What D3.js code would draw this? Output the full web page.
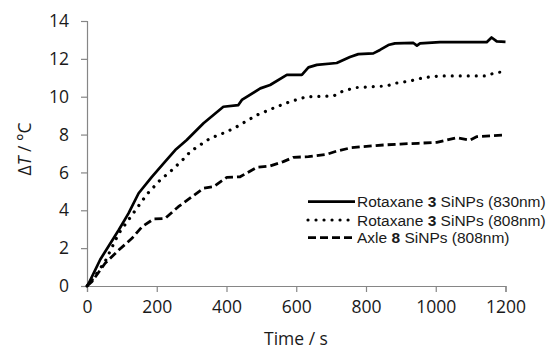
<!DOCTYPE html>
<html>
<head>
<meta charset="utf-8">
<script src="https://cdn.jsdelivr.net/npm/d3@7"></script>
<style>
  html, body { margin: 0; padding: 0; background: #fff; }
  svg { display: block; font-family: "Open Sans", sans-serif; }
</style>
</head>
<body>
<svg id="chart" width="552" height="349"></svg>
<script>
// ---- data ----
const rotaxane830Time = [0, 5, 38, 91, 119, 148, 186, 224, 253, 286, 334, 391, 434, 444, 497, 525, 573, 616, 635, 659, 716, 754, 778, 821, 840, 864, 883, 936, 946, 955, 1012, 1146, 1160, 1175, 1200];
const rotaxane830Temp = [0, 0.14, 1.4, 2.96, 3.84, 4.9, 5.77, 6.57, 7.18, 7.71, 8.6, 9.47, 9.56, 9.83, 10.44, 10.62, 11.15, 11.15, 11.55, 11.68, 11.78, 12.1, 12.25, 12.29, 12.47, 12.73, 12.82, 12.84, 12.7, 12.82, 12.88, 12.88, 13.13, 12.92, 12.9];

const rotaxane808Time = [0, 14, 52, 91, 129, 172, 210, 244, 282, 296, 353, 401, 430, 487, 544, 583, 630, 707, 731, 769, 860, 883, 926, 964, 1012, 1146, 1170, 1200];
const rotaxane808Temp = [0, 0.3, 1.3, 2.78, 3.75, 4.85, 5.6, 6.13, 6.8, 7.1, 7.8, 8.15, 8.42, 9.03, 9.47, 9.74, 10.0, 10.04, 10.27, 10.48, 10.57, 10.71, 10.83, 11.0, 11.1, 11.1, 11.27, 11.32];

const axle808Time = [0, 14, 52, 91, 129, 158, 191, 224, 262, 301, 334, 363, 401, 439, 487, 525, 563, 592, 635, 688, 716, 759, 850, 898, 950, 1003, 1031, 1060, 1098, 1117, 1200];
const axle808Temp = [0, 0.23, 1.2, 1.9, 2.52, 3.13, 3.54, 3.57, 4.19, 4.72, 5.16, 5.25, 5.74, 5.77, 6.27, 6.34, 6.57, 6.8, 6.83, 6.96, 7.13, 7.31, 7.45, 7.5, 7.54, 7.59, 7.71, 7.83, 7.71, 7.89, 7.98];

const seriesNames = ["Rotaxane |3| SiNPs (830nm)", "Rotaxane |3| SiNPs (808nm)", "Axle |8| SiNPs (808nm)"];
const xTicks = [0, 200, 400, 600, 800, 1000, 1200];
const yTicks = [0, 2, 4, 6, 8, 10, 12, 14];
const xTitle = "Time / s";

// ---- build ----
const svg = d3.select("#chart");
const x = d3.scaleLinear().domain([0, 1200]).range([87, 505.5]);
const y = d3.scaleLinear().domain([0, 14]).range([286, 21]);
const axisColor = "#868686";
const textColor = "#1a1a1a";

const series = [
  { name: seriesNames[0], t: rotaxane830Time, v: rotaxane830Temp, dash: null, cap: "butt", w: 2.7 },
  { name: seriesNames[1], t: rotaxane808Time, v: rotaxane808Temp, dash: "0.01 8", cap: "round", w: 3.2 },
  { name: seriesNames[2], t: axle808Time, v: axle808Temp, dash: "8 4", cap: "butt", w: 2.8 }
];

// axes
const xAxis = svg.append("g").attr("transform", `translate(0,${y(0)})`)
  .call(d3.axisBottom(x).tickValues(xTicks).tickSize(6).tickPadding(9).tickFormat(d3.format("d")));
const yAxis = svg.append("g").attr("transform", `translate(${x(0)},0)`)
  .call(d3.axisLeft(y).tickValues(yTicks).tickSize(6).tickPadding(12).tickFormat(d3.format("d")));
[xAxis, yAxis].forEach(g => {
  g.select(".domain").attr("stroke", axisColor).attr("stroke-width", 1.2);
  g.selectAll(".tick line").attr("stroke", axisColor).attr("stroke-width", 1.2);
  g.selectAll(".tick text").attr("fill", textColor).style("font-size", "17.5px").style("font-family", "Open Sans");
});

// lines
const line = d3.line().x(d => x(d[0])).y(d => y(d[1]));
series.forEach(s => {
  const pts = s.t.map((t, i) => [t, s.v[i]]);
  svg.append("path").datum(pts)
    .attr("d", line)
    .attr("fill", "none")
    .attr("stroke", "#000")
    .attr("stroke-width", s.w)
    .attr("stroke-linejoin", "round")
    .attr("stroke-linecap", s.cap)
    .attr("stroke-dasharray", s.dash);
});

// legend
const legendRows = [201.7, 220, 237.7];
series.forEach((s, i) => {
  const g = svg.append("g").attr("transform", `translate(0,${legendRows[i]})`);
  g.append("line").attr("x1", 308).attr("x2", 355).attr("y1", 0).attr("y2", 0)
    .attr("stroke", "#000").attr("stroke-width", s.w)
    .attr("stroke-linecap", s.cap).attr("stroke-dasharray", s.dash);
  const txt = g.append("text").attr("x", 357).attr("y", 0).attr("dy", "0.36em")
    .attr("fill", textColor).style("font-size", "15.5px")
    .style("font-family", "'Liberation Sans', Arial, sans-serif");
  s.name.split("|").forEach((part, j) => {
    txt.append("tspan").text(part).style("font-weight", j === 1 ? "bold" : "normal");
  });
});

// axis titles
svg.append("text").attr("x", 296).attr("y", 345).attr("text-anchor", "middle")
  .attr("fill", textColor).style("font-size", "17.5px").text(xTitle);
const yt = svg.append("text").attr("transform", "translate(31,149) rotate(-90)")
  .attr("text-anchor", "middle").attr("fill", textColor).style("font-size", "17.5px");
yt.append("tspan").text("\u0394");
yt.append("tspan").style("font-style", "italic").text("T");
yt.append("tspan").text(" / \u00B0C");
</script>
</body>
</html>
